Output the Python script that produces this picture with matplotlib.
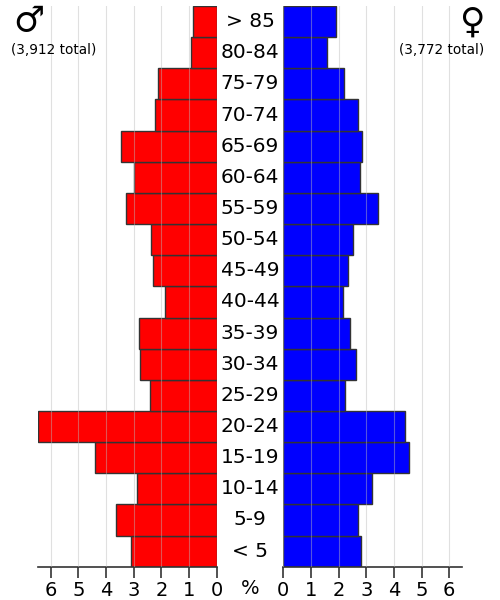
import matplotlib
matplotlib.use("Agg")
import matplotlib.pyplot as plt
import matplotlib.transforms as mtransforms

ages = ["< 5", "5-9", "10-14", "15-19", "20-24", "25-29", "30-34", "35-39",
        "40-44", "45-49", "50-54", "55-59", "60-64", "65-69", "70-74",
        "75-79", "80-84", "> 85"]
male = [3.10, 3.64, 2.88, 4.39, 6.47, 2.41, 2.78, 2.82, 1.87, 2.31, 2.37,
        3.29, 3.00, 3.47, 2.23, 2.12, 0.94, 0.87]
female = [2.80, 2.69, 3.21, 4.55, 4.39, 2.24, 2.63, 2.41, 2.16, 2.33, 2.52,
          3.41, 2.77, 2.86, 2.69, 2.19, 1.57, 1.90]
ticks = [0, 1, 2, 3, 4, 5, 6]
male_total = "(3,912 total)"
female_total = "(3,772 total)"

fig = plt.figure(figsize=(5, 6), dpi=100)
axL = fig.add_axes([0.0754, 0.0555, 0.358, 0.9345])
axR = fig.add_axes([0.5666, 0.0555, 0.358, 0.9345])

ys = list(range(len(ages)))
axL.barh(ys, male, height=1.0, color="#ff0000", edgecolor="#333333", linewidth=1.0, zorder=2)
axR.barh(ys, female, height=1.0, color="#0000ff", edgecolor="#333333", linewidth=1.0, zorder=2)

for ax in (axL, axR):
    ax.set_ylim(-0.5, len(ages) - 0.5)
    ax.set_yticks([])
    for s in ("top", "left", "right"):
        ax.spines[s].set_visible(False)
    ax.spines["bottom"].set_color("#333333")
    ax.spines["bottom"].set_linewidth(1.2)
    ax.set_xticks(ticks)
    ax.set_xticklabels([str(t) for t in ticks])
    ax.tick_params(axis="x", direction="out", length=8, width=1.2, color="#333333",
                   labelsize=14, pad=2.5)
    for t in ticks:
        ax.axvline(t, color="#bbbbbb", linewidth=0.8, alpha=0.45, zorder=3)

axL.set_xlim(6.47, 0)
axR.set_xlim(0, 6.47)

trans = mtransforms.blended_transform_factory(fig.transFigure, axL.transData)
for y, lab in zip(ys, ages):
    fig.text(0.5, y, lab, transform=trans, ha="center", va="center", fontsize=14.5)

fig.text(0.5, 0.02, "%", ha="center", va="center", fontsize=14)

fig.text(0.058, 0.965, "\u2642", ha="center", va="center", fontsize=25)
fig.text(0.108, 0.917, male_total, ha="center", va="center", fontsize=9.8)
fig.text(0.944, 0.963, "\u2640", ha="center", va="center", fontsize=25)
fig.text(0.884, 0.917, female_total, ha="center", va="center", fontsize=9.8)

fig.savefig("out.png", dpi=100)
